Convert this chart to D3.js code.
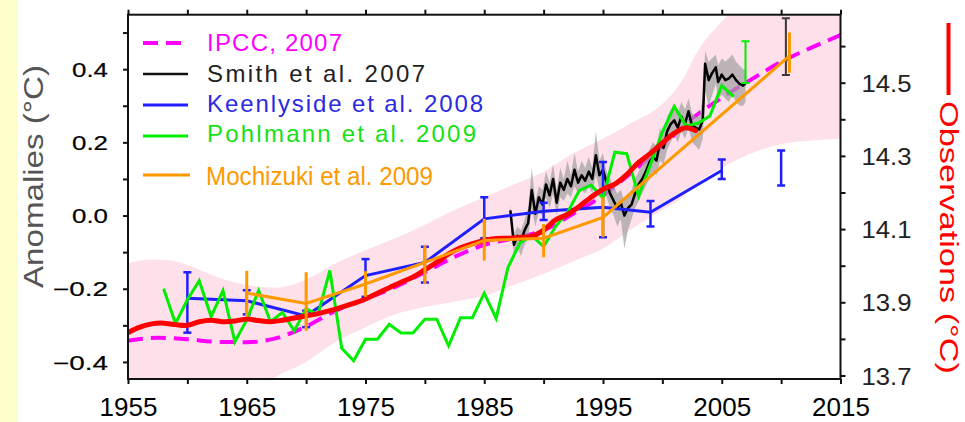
<!DOCTYPE html>
<html>
<head>
<meta charset="utf-8">
<script src="https://cdn.jsdelivr.net/npm/d3@7"></script>
<style>
  body { margin: 0; background: #fff; }
  svg { display: block; font-family: "Liberation Sans", Arial, sans-serif; }
</style>
</head>
<body>
<svg id="chart" width="965" height="422"></svg>
<script>
// ---------- data (temperature anomalies, °C) ----------
// IPCC 2007 projection (dashed) and its uncertainty range (pink band)
const ipccYears  = [1955, 1957.5, 1960, 1962.5, 1965, 1967.5, 1970, 1972.5, 1975, 1977.5, 1980, 1982.5, 1985, 1987.5, 1990, 1992.5, 1995, 1997.5, 2000, 2002.5, 2005, 2007.5, 2010, 2012.5, 2015];
const ipccValues = [-0.342, -0.334, -0.338, -0.345, -0.346, -0.335, -0.303, -0.26, -0.228, -0.195, -0.155, -0.113, -0.08, -0.062, -0.04, 0.005, 0.055, 0.12, 0.19, 0.265, 0.322, 0.372, 0.42, 0.458, 0.493];

const bandYears = [1955, 1957, 1958.5, 1960, 1962.5, 1965, 1967.5, 1970, 1972.5, 1975, 1977.5, 1980, 1982.5, 1985, 1987.5, 1990, 1992.5, 1995, 1997.5, 2000, 2001.5, 2003, 2005, 2007.5, 2010, 2012.5, 2015];
const bandLow   = [-0.5, -0.5, -0.5, -0.5, -0.5, -0.5, -0.44, -0.4, -0.345, -0.305, -0.27, -0.25, -0.235, -0.22, -0.19, -0.16, -0.125, -0.09, -0.035, 0.015, 0.045, 0.09, 0.13, 0.17, 0.195, 0.205, 0.21];
const bandHigh  = [-0.13, -0.12, -0.122, -0.135, -0.168, -0.19, -0.197, -0.175, -0.13, -0.095, -0.062, -0.025, 0.015, 0.05, 0.085, 0.12, 0.17, 0.21, 0.255, 0.305, 0.36, 0.45, 0.53, 0.6, 0.62, 0.64, 0.65];

// Observations (smoothed)
const obsYears  = [1955, 1956, 1957, 1958, 1959, 1960, 1961, 1962, 1963, 1964, 1965, 1966, 1967, 1968, 1969, 1970, 1971, 1972, 1973, 1974, 1975, 1976, 1977, 1978, 1979, 1980, 1981, 1982, 1983, 1984, 1985, 1986, 1987, 1988, 1989, 1990, 1991, 1992, 1993, 1994, 1995, 1996, 1997, 1998, 1999, 2000, 2001, 2002, 2002.8];
const obsValues = [-0.32, -0.305, -0.296, -0.294, -0.298, -0.3, -0.29, -0.286, -0.29, -0.288, -0.283, -0.287, -0.29, -0.286, -0.28, -0.274, -0.268, -0.26, -0.25, -0.24, -0.228, -0.212, -0.197, -0.182, -0.168, -0.148, -0.128, -0.105, -0.088, -0.077, -0.068, -0.063, -0.062, -0.06, -0.057, -0.04, -0.012, 0.003, 0.025, 0.05, 0.072, 0.086, 0.112, 0.145, 0.17, 0.198, 0.225, 0.24, 0.232];

// Smith et al. 2007 hindcasts: ensemble mean and spread
const smithYears = [1987.2, 1987.5, 1987.8, 1988.1, 1988.4, 1988.7, 1989.0, 1989.3, 1989.6, 1989.9, 1990.2, 1990.5, 1990.8, 1991.1, 1991.4, 1991.7, 1992.0, 1992.3, 1992.6, 1992.9, 1993.2, 1993.5, 1993.8, 1994.1, 1994.4, 1994.7, 1995.0, 1995.3, 1995.6, 1995.9, 1996.2, 1996.5, 1996.8, 1997.1, 1997.4, 1997.7, 1998.0, 1998.3, 1998.6, 1998.9, 1999.2, 1999.5, 1999.8, 2000.1, 2000.4, 2000.7, 2001.0, 2001.3, 2001.6, 2001.9, 2002.2, 2002.5, 2002.8, 2003.1, 2003.4, 2003.6, 2003.9, 2004.2, 2004.5, 2004.7, 2005.0, 2005.3, 2005.6, 2005.9, 2006.2, 2006.5, 2006.8, 2007.0];
const smithMean  = [0.014, -0.08, -0.055, -0.07, -0.04, -0.02, 0.07, 0.005, 0.05, 0.03, 0.085, 0.055, 0.1, 0.035, 0.09, 0.07, 0.1, 0.08, 0.125, 0.09, 0.11, 0.095, 0.12, 0.1, 0.165, 0.11, 0.125, 0.09, 0.06, 0.04, 0.02, 0.035, 0.0, 0.02, 0.03, 0.06, 0.085, 0.1, 0.12, 0.145, 0.16, 0.15, 0.2, 0.185, 0.23, 0.25, 0.26, 0.24, 0.27, 0.25, 0.285, 0.245, 0.24, 0.235, 0.26, 0.415, 0.37, 0.39, 0.405, 0.365, 0.385, 0.37, 0.375, 0.385, 0.37, 0.36, 0.355, 0.36];
const smithLow   = [-0.01, -0.11, -0.09, -0.11, -0.08, -0.06, 0.02, -0.03, 0.01, 0.0, 0.05, 0.02, 0.06, 0.0, 0.05, 0.04, 0.06, 0.05, 0.08, 0.06, 0.07, 0.06, 0.08, 0.06, 0.11, 0.07, 0.08, 0.05, 0.02, 0.0, -0.03, -0.01, -0.09, -0.04, -0.01, 0.02, 0.04, 0.06, 0.08, 0.1, 0.12, 0.11, 0.15, 0.14, 0.18, 0.2, 0.22, 0.2, 0.23, 0.21, 0.24, 0.2, 0.19, 0.18, 0.21, 0.34, 0.3, 0.33, 0.36, 0.32, 0.33, 0.32, 0.31, 0.33, 0.31, 0.3, 0.3, 0.31];
const smithHigh  = [0.03, -0.05, -0.03, -0.04, -0.01, 0.02, 0.13, 0.04, 0.08, 0.07, 0.12, 0.09, 0.14, 0.07, 0.13, 0.1, 0.15, 0.11, 0.17, 0.12, 0.15, 0.13, 0.16, 0.13, 0.23, 0.15, 0.17, 0.12, 0.1, 0.08, 0.06, 0.07, 0.04, 0.06, 0.07, 0.1, 0.12, 0.14, 0.16, 0.18, 0.2, 0.19, 0.24, 0.22, 0.27, 0.29, 0.3, 0.28, 0.31, 0.29, 0.32, 0.28, 0.27, 0.27, 0.32, 0.45, 0.42, 0.43, 0.44, 0.41, 0.43, 0.42, 0.43, 0.44, 0.42, 0.41, 0.4, 0.4];
const smithBar   = { year: 2010.4, low: 0.384, high: 0.539 };

// Keenlyside et al. 2008
const keenYears = [1960, 1965, 1970, 1975, 1980, 1985, 1990, 1995, 1999, 2005];
const keenMean  = [-0.226, -0.233, -0.274, -0.164, -0.128, -0.009, 0.012, 0.023, 0.009, 0.123];
const keenLow   = [-0.32, -0.27, -0.305, -0.222, -0.183, -0.062, -0.012, -0.059, -0.03, 0.1];
const keenHigh  = [-0.155, -0.204, -0.26, -0.119, -0.085, 0.05, 0.035, 0.146, 0.04, 0.153];
const keenBar   = { year: 2010, low: 0.082, high: 0.178 };

// Pohlmann et al. 2009
const pohlYears  = [1958, 1959, 1960, 1961, 1962, 1963, 1964, 1965, 1966, 1967, 1968, 1969, 1970, 1971, 1972, 1973, 1974, 1975, 1976, 1977, 1978, 1979, 1980, 1981, 1982, 1983, 1984, 1985, 1986, 1987, 1988, 1989, 1990, 1991, 1992, 1993, 1994, 1995, 1996, 1997, 1998, 1999, 2000, 2001, 2002, 2003, 2004, 2005, 2006];
const pohlValues = [-0.2, -0.295, -0.23, -0.178, -0.276, -0.205, -0.345, -0.285, -0.205, -0.29, -0.265, -0.315, -0.255, -0.27, -0.15, -0.363, -0.397, -0.338, -0.338, -0.297, -0.321, -0.321, -0.283, -0.283, -0.356, -0.279, -0.279, -0.212, -0.281, -0.142, -0.075, -0.055, -0.085, -0.03, 0.008, 0.068, 0.083, 0.048, 0.173, 0.169, 0.053, 0.14, 0.228, 0.298, 0.245, 0.252, 0.272, 0.355, 0.325];
const pohlBar    = { year: 2007, low: 0.362, high: 0.476 };

// Mochizuki et al. 2009
const mochYears = [1965, 1970, 1975, 1980, 1985, 1990, 1995, 2010.7];
const mochMean  = [-0.212, -0.24, -0.187, -0.128, -0.068, -0.062, -0.005, 0.436];
const mochLow   = [-0.276, -0.315, -0.222, -0.187, -0.123, -0.114, -0.059, 0.39];
const mochHigh  = [-0.151, -0.155, -0.152, -0.082, -0.009, -0.023, 0.05, 0.5];

// axes
const yearTicks   = [1955, 1960, 1965, 1970, 1975, 1980, 1985, 1990, 1995, 2000, 2005, 2010, 2015];
const yearLabels  = [1955, 1965, 1975, 1985, 1995, 2005, 2015];
const anomTicks   = [-0.4, -0.3, -0.2, -0.1, 0.0, 0.1, 0.2, 0.3, 0.4, 0.5];
const anomLabels  = [-0.4, -0.2, 0.0, 0.2, 0.4];
const obsTicks    = [13.7, 13.8, 13.9, 14.0, 14.1, 14.2, 14.3, 14.4, 14.5, 14.6];
const obsLabels   = [13.7, 13.9, 14.1, 14.3, 14.5];
const obsOffset   = 14.137;   // absolute temperature of the zero anomaly

const legendItems = [
  { name: "IPCC, 2007",             color: "#ff00ff", text: "#ff00ff", dash: "15,8", width: 4,   len: 135 },
  { name: "Smith et al. 2007",      color: "#111111", text: "#222222", dash: null,   width: 2.5, len: 218 },
  { name: "Keenlyside et al. 2008", color: "#1f1fff", text: "#2a2ae0", dash: null,   width: 3,   len: 276 },
  { name: "Pohlmann et al. 2009",   color: "#00ee00", text: "#16e016", dash: null,   width: 3,   len: 269 },
  { name: "Mochizuki et al. 2009",  color: "#ff9900", text: "#ff9900", dash: null,   width: 3,   len: 227 }
];

// ---------- layout ----------
const L = 128, R = 840.5, T = 14.7, B = 379;
const svg = d3.select("#chart");

const x = d3.scaleLinear().domain([1955, 2015]).range([L, R]);
const y = d3.scaleLinear().domain([-0.4466, 0.5488]).range([B, T]);
const yObs = d3.scaleLinear().domain([-0.4466 + obsOffset, 0.5488 + obsOffset]).range([B, T]);

// page background strip on the left
svg.append("rect").attr("x", 0).attr("y", 0).attr("width", 18).attr("height", 422).attr("fill", "#ffffcc");

svg.append("clipPath").attr("id", "plotClip")
  .append("rect").attr("x", L).attr("y", T).attr("width", R - L).attr("height", B - T);

const plot = svg.append("g").attr("clip-path", "url(#plotClip)");

// IPCC uncertainty band
const band = bandYears.map((yr, i) => ({ yr, lo: bandLow[i], hi: bandHigh[i] }));
plot.append("path")
  .datum(band)
  .attr("fill", "#fde0e9")
  .attr("d", d3.area().curve(d3.curveMonotoneX)
    .x(d => x(d.yr)).y0(d => y(d.lo)).y1(d => y(d.hi)));

// IPCC projection
const ipcc = ipccYears.map((yr, i) => ({ yr, v: ipccValues[i] }));
plot.append("path")
  .datum(ipcc)
  .attr("fill", "none").attr("stroke", "#ff00ff").attr("stroke-width", 4)
  .attr("stroke-dasharray", "15,8")
  .attr("d", d3.line().curve(d3.curveMonotoneX).x(d => x(d.yr)).y(d => y(d.v)));

// Smith spread and mean
const smith = smithYears.map((yr, i) => ({ yr, v: smithMean[i], lo: smithLow[i], hi: smithHigh[i] }));
plot.append("path")
  .datum(smith)
  .attr("fill", "#a0a0a0").attr("fill-opacity", 0.7)
  .attr("d", d3.area().x(d => x(d.yr)).y0(d => y(d.lo)).y1(d => y(d.hi)));
plot.append("path")
  .datum(smith)
  .attr("fill", "none").attr("stroke", "#000").attr("stroke-width", 2.5)
  .attr("stroke-linejoin", "round")
  .attr("d", d3.line().x(d => x(d.yr)).y(d => y(d.v)));

function errorBars(g, pts, color, width, cap) {
  pts.forEach(p => {
    g.append("line").attr("x1", x(p.yr)).attr("x2", x(p.yr))
      .attr("y1", y(p.lo)).attr("y2", y(p.hi))
      .attr("stroke", color).attr("stroke-width", width);
    if (cap > 0) {
      [p.lo, p.hi].forEach(v => {
        g.append("line").attr("x1", x(p.yr) - cap / 2).attr("x2", x(p.yr) + cap / 2)
          .attr("y1", y(v)).attr("y2", y(v))
          .attr("stroke", color).attr("stroke-width", width);
      });
    }
  });
}

// Smith forecast bar
errorBars(plot, [{ yr: smithBar.year, lo: smithBar.low, hi: smithBar.high }], "#3a3a3a", 2, 8);

// Keenlyside
const keen = keenYears.map((yr, i) => ({ yr, v: keenMean[i], lo: keenLow[i], hi: keenHigh[i] }));
plot.append("path")
  .datum(keen)
  .attr("fill", "none").attr("stroke", "#1f1fff").attr("stroke-width", 3)
  .attr("d", d3.line().x(d => x(d.yr)).y(d => y(d.v)));
errorBars(plot, keen, "#1f1fff", 2.5, 8);
errorBars(plot, [{ yr: keenBar.year, lo: keenBar.low, hi: keenBar.high }], "#1f1fff", 2.5, 8);

// Pohlmann
const pohl = pohlYears.map((yr, i) => ({ yr, v: pohlValues[i] }));
plot.append("path")
  .datum(pohl)
  .attr("fill", "none").attr("stroke", "#00ee00").attr("stroke-width", 3)
  .attr("d", d3.line().x(d => x(d.yr)).y(d => y(d.v)));
errorBars(plot, [{ yr: pohlBar.year, lo: pohlBar.low, hi: pohlBar.high }], "#00ee00", 2, 8);

// Observations
const obs = obsYears.map((yr, i) => ({ yr, v: obsValues[i] }));
plot.append("path")
  .datum(obs)
  .attr("fill", "none").attr("stroke", "#ff0000").attr("stroke-width", 5)
  .attr("stroke-linecap", "round")
  .attr("d", d3.line().curve(d3.curveCatmullRom).x(d => x(d.yr)).y(d => y(d.v)));

// Mochizuki
const moch = mochYears.map((yr, i) => ({ yr, v: mochMean[i], lo: mochLow[i], hi: mochHigh[i] }));
plot.append("path")
  .datum(moch)
  .attr("fill", "none").attr("stroke", "#ff9900").attr("stroke-width", 3)
  .attr("d", d3.line().x(d => x(d.yr)).y(d => y(d.v)));
errorBars(plot, moch, "#ff9900", 3, 0);

// ---------- axes ----------
const axisColor = "#111";
function styleAxis(g) {
  g.select(".domain").remove();
  g.selectAll(".tick line").attr("stroke", axisColor).attr("stroke-width", 2);
}

const fmtAnom = d => Math.abs(d) < 1e-9 ? "0.0" : (d < 0 ? "\u2212" : "") + Math.abs(d).toFixed(1);

const gLeft = svg.append("g").attr("transform", `translate(${L},0)`)
  .call(d3.axisLeft(y).tickValues(anomTicks).tickSize(5).tickPadding(15)
    .tickFormat(d => anomLabels.some(v => Math.abs(v - d) < 1e-9) ? fmtAnom(d) : ""));
styleAxis(gLeft);
gLeft.selectAll("text")
  .attr("font-family", "Liberation Sans, Arial, sans-serif")
  .attr("font-size", 20).attr("fill", "#000").attr("dy", "0.36em")
  .attr("stroke", "#000").attr("stroke-width", 0.2)
  .each(function () {
    const t = d3.select(this).text();
    if (t) d3.select(this).attr("textLength", t.length > 3 ? 55 : 36).attr("lengthAdjust", "spacingAndGlyphs");
  });

const gRight = svg.append("g").attr("transform", `translate(${R},0)`)
  .call(d3.axisRight(yObs).tickValues(obsTicks).tickSize(5).tickPadding(16)
    .tickFormat(d => obsLabels.some(v => Math.abs(v - d) < 1e-9) ? d.toFixed(1) : ""));
styleAxis(gRight);
gRight.selectAll("text")
  .attr("font-family", "Liberation Sans, Arial, sans-serif")
  .attr("font-size", 24).attr("fill", "#222").attr("dy", "0.36em")
  .each(function () {
    const t = d3.select(this).text();
    if (t) d3.select(this).attr("textLength", 50).attr("lengthAdjust", "spacingAndGlyphs");
  });

const gBottom = svg.append("g").attr("transform", `translate(0,${B})`)
  .call(d3.axisBottom(x).tickValues(yearTicks).tickSize(5).tickPadding(14)
    .tickFormat(d => yearLabels.includes(d) ? String(d) : ""));
styleAxis(gBottom);
gBottom.selectAll("text")
  .attr("font-family", "Liberation Sans, Arial, sans-serif")
  .attr("font-size", 26).attr("fill", "#000");

const gTop = svg.append("g").attr("transform", `translate(0,${T})`)
  .call(d3.axisTop(x).tickValues(yearTicks).tickSize(5).tickFormat(""));
styleAxis(gTop);

// frame
svg.append("rect").attr("x", L).attr("y", T).attr("width", R - L).attr("height", B - T)
  .attr("fill", "none").attr("stroke", axisColor).attr("stroke-width", 2);

// axis titles
svg.append("text")
  .attr("transform", "translate(43,176.5) rotate(-90)")
  .attr("text-anchor", "middle").attr("font-size", 27).attr("fill", "#555")
  .attr("textLength", 223).attr("lengthAdjust", "spacingAndGlyphs")
  .text("Anomalies (\u00B0C)");

svg.append("line").attr("x1", 948.5).attr("x2", 948.5).attr("y1", 23).attr("y2", 95)
  .attr("stroke", "#ff0000").attr("stroke-width", 4);
svg.append("text")
  .attr("transform", "translate(940,101) rotate(90)")
  .attr("text-anchor", "start").attr("font-size", 25).attr("fill", "#ff0000")
  .attr("textLength", 273).attr("lengthAdjust", "spacingAndGlyphs")
  .text("Observations (\u00B0C)");

// ---------- legend ----------
const legendLineY = [43, 74, 105, 136, 175];
const legendTextY = [51, 82, 112, 142, 185];
legendItems.forEach((it, i) => {
  svg.append("line")
    .attr("x1", 143).attr("x2", i === 4 ? 190 : 188)
    .attr("y1", legendLineY[i]).attr("y2", legendLineY[i])
    .attr("stroke", it.color).attr("stroke-width", it.width)
    .attr("stroke-dasharray", it.dash);
  svg.append("text")
    .attr("x", i === 4 ? 206 : 207).attr("y", legendTextY[i])
    .attr("font-size", i === 4 ? 25 : 24).attr("fill", it.text)
    .attr("textLength", it.len).attr("lengthAdjust", i === 4 ? "spacingAndGlyphs" : "spacing")
    .text(it.name);
});
</script>
</body>
</html>
